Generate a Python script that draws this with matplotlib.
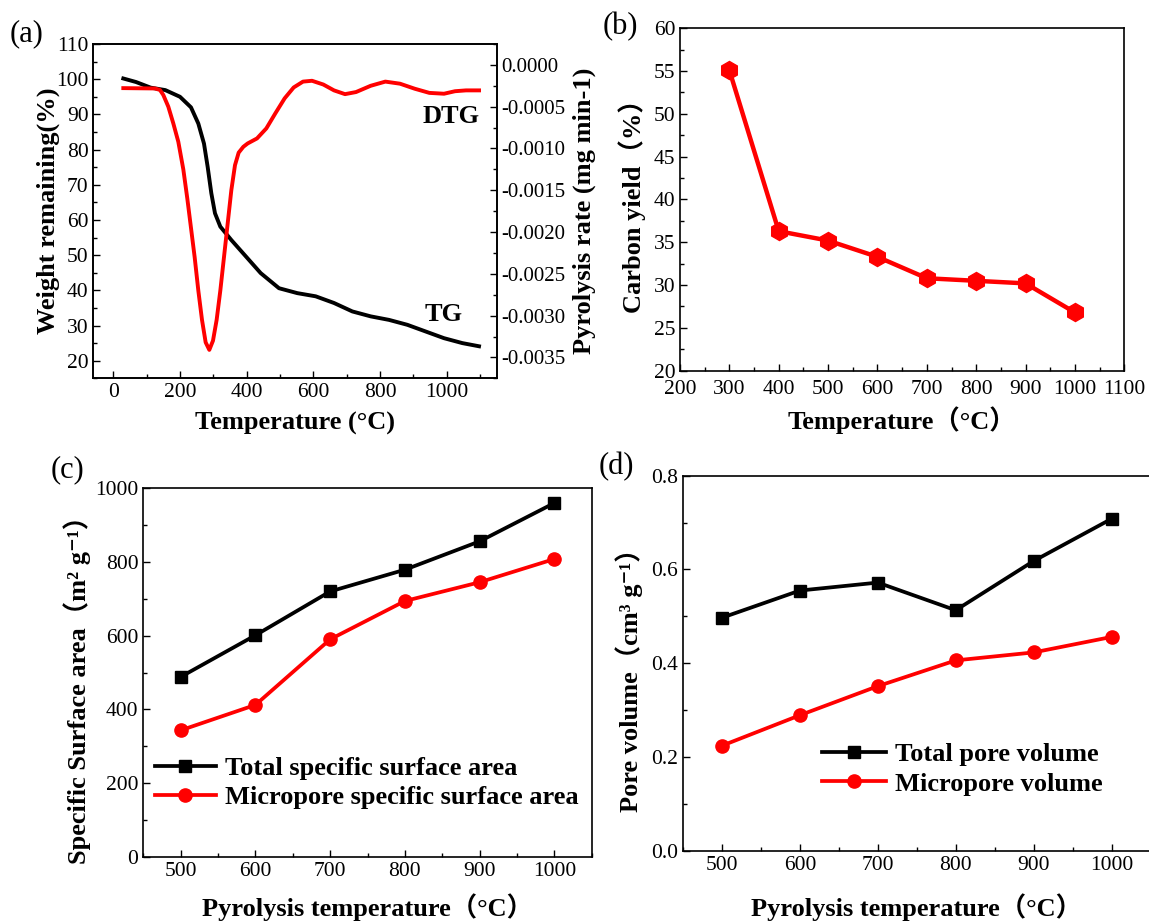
import matplotlib
matplotlib.use('Agg')
import matplotlib.pyplot as plt
from matplotlib.ticker import MultipleLocator, FormatStrFormatter

plt.rcParams['font.family'] = ['Liberation Serif', 'Noto Sans CJK SC', 'DejaVu Serif']
plt.rcParams['font.size'] = 15
plt.rcParams['axes.linewidth'] = 1.2
plt.rcParams['xtick.direction'] = 'in'
plt.rcParams['ytick.direction'] = 'in'

# (a) TG / DTG curves
tg_temp = [30, 68, 112, 156, 200, 233, 255, 272, 283, 294, 305, 321, 354, 398, 442,
           497, 552, 607, 662, 717, 772, 827, 882, 937, 992, 1047, 1097]
tg_weight = [100.2, 99.2, 97.6, 96.9, 95.0, 92.0, 87.4, 81.7, 75.1, 67.6, 61.9, 58.1, 54.3, 49.6, 44.9,
             40.6, 39.2, 38.3, 36.4, 34.0, 32.6, 31.6, 30.2, 28.3, 26.4, 25.0, 24.1]
dtg_temp = [30, 125, 140, 150, 165, 180, 195, 210, 222, 233, 244, 255, 266, 277, 288, 299, 310, 321,
            332, 343, 354, 365, 376, 390, 403, 431, 459, 486, 514, 541, 569, 596, 630, 662, 695, 728,
            772, 816, 860, 904, 948, 992, 1025, 1058, 1097]
dtg_rate = [-0.278, -0.282, -0.30, -0.36, -0.50, -0.70, -0.92, -1.25, -1.60, -1.95, -2.30, -2.70, -3.05,
            -3.32, -3.41, -3.30, -3.05, -2.70, -2.30, -1.90, -1.50, -1.20, -1.05, -0.98, -0.94, -0.88,
            -0.76, -0.58, -0.40, -0.27, -0.20, -0.19, -0.235, -0.305, -0.35, -0.325, -0.25, -0.20,
            -0.225, -0.285, -0.335, -0.345, -0.315, -0.305, -0.305]
dtg_rate = [v * 1e-3 for v in dtg_rate]

# (b) carbon yield
yield_temp = [300, 400, 500, 600, 700, 800, 900, 1000]
carbon_yield = [55.1, 36.3, 35.2, 33.3, 30.8, 30.5, 30.2, 26.8]

# (c), (d) surface area and pore volume
pyro_temp = [500, 600, 700, 800, 900, 1000]
total_area = [488, 601, 720, 779, 856, 960]
micro_area = [343, 412, 590, 694, 745, 808]
total_volume = [0.497, 0.555, 0.572, 0.513, 0.618, 0.708]
micro_volume = [0.224, 0.289, 0.351, 0.406, 0.423, 0.456]

W, H = 1149, 922
fig = plt.figure(figsize=(W / 100, H / 100), dpi=100)


def box(left, right, top, bottom):
    return [left / W, 1 - bottom / H, (right - left) / W, (bottom - top) / H]


def style(ax):
    ax.tick_params(which='major', length=5, width=1, labelsize=15.5)
    ax.tick_params(which='minor', length=3, width=1)


lab = {'fontsize': 19, 'fontweight': 'bold'}
leg = {'weight': 'bold', 'size': 19}

# ---- (a)
ax = fig.add_axes(box(93.3, 496.7, 44, 378.3))
ax.plot(tg_temp, tg_weight, color='black', lw=2.8)
ax.set_xlim(-60, 1150)
ax.set_ylim(15, 110)
ax.xaxis.set_major_locator(MultipleLocator(200))
ax.xaxis.set_minor_locator(MultipleLocator(100))
ax.yaxis.set_major_locator(MultipleLocator(10))
ax.yaxis.set_minor_locator(MultipleLocator(5))
ax.set_xlabel('Temperature (°C)', **lab)
ax.set_ylabel('Weight remaining(%)', **lab)
ax.xaxis.set_label_coords(0.5, -0.135)
ax.yaxis.set_label_coords(-0.112, 0.5)
ax.xaxis.label.set_va('center')
ax.yaxis.label.set_va('center')
ax.text(1014, 89.3, 'DTG', ha='center', va='center', **lab)
ax.text(992, 33.0, 'TG', ha='center', va='center', **lab)
style(ax)
ax2 = ax.twinx()
ax2.plot(dtg_temp, dtg_rate, color='red', lw=2.8)
ax2.set_ylim(-0.00375, 0.00025)
ax2.yaxis.set_major_locator(MultipleLocator(0.0005))
ax2.yaxis.set_minor_locator(MultipleLocator(0.00025))
ax2.yaxis.set_major_formatter(FormatStrFormatter('%.4f'))
ax2.set_ylabel('Pyrolysis rate (mg min-1)', **lab)
ax2.yaxis.set_label_coords(1.217, 0.5)
ax2.yaxis.label.set_va('center')
style(ax2)
ax2.tick_params(axis='y', labelsize=15, pad=3)
fig.text(27 / W, 1 - 34 / H, '(a)', fontsize=22, ha='center', va='center')

# ---- (b)
ax = fig.add_axes(box(680, 1124.3, 28.3, 370.7))
ax.plot(yield_temp, carbon_yield, color='red', lw=3.2, marker='h', markersize=13)
ax.set_xlim(200, 1100)
ax.set_ylim(20, 60)
ax.xaxis.set_major_locator(MultipleLocator(100))
ax.xaxis.set_minor_locator(MultipleLocator(50))
ax.yaxis.set_major_locator(MultipleLocator(5))
ax.yaxis.set_minor_locator(MultipleLocator(2.5))
ax.set_xlabel('Temperature（°C）', **lab)
ax.set_ylabel('Carbon yield（%）', **lab)
ax.xaxis.set_label_coords(0.5, -0.144)
ax.yaxis.set_label_coords(-0.107, 0.5)
ax.xaxis.label.set_va('center')
ax.yaxis.label.set_va('center')
style(ax)
ax.tick_params(axis='x', pad=7)
fig.text(620 / W, 1 - 27 / H, '(b)', fontsize=22, ha='center', va='center')

# ---- (c)
ax = fig.add_axes(box(143.3, 591.7, 488.3, 856.7))
ax.plot(pyro_temp, total_area, color='black', lw=2.7, marker='s', markersize=8.5,
        label='Total specific surface area')
ax.plot(pyro_temp, micro_area, color='red', lw=2.7, marker='o', markersize=9.5,
        label='Micropore specific surface area')
ax.set_xlim(450, 1050)
ax.set_ylim(0, 1000)
ax.xaxis.set_major_locator(MultipleLocator(100))
ax.xaxis.set_minor_locator(MultipleLocator(50))
ax.yaxis.set_major_locator(MultipleLocator(200))
ax.yaxis.set_minor_locator(MultipleLocator(100))
ax.set_xlabel('Pyrolysis temperature（°C）', **lab)
ax.set_ylabel('Specific Surface area（m² g⁻¹）', **lab)
ax.xaxis.set_label_coords(0.5, -0.136)
ax.yaxis.set_label_coords(-0.148, 0.469)
ax.xaxis.label.set_va('center')
ax.yaxis.label.set_va('center')
ax.legend(loc='center left', bbox_to_anchor=(0.026, 0.20), frameon=False, prop=leg,
          handlelength=2.3, handletextpad=0.35, labelspacing=0.22, borderpad=0, borderaxespad=0)
style(ax)
fig.text(68 / W, 1 - 470 / H, '(c)', fontsize=22, ha='center', va='center')

# ---- (d)
ax = fig.add_axes(box(683, 1150.5, 475.7, 850.7))
ax.plot(pyro_temp, total_volume, color='black', lw=2.7, marker='s', markersize=8.5,
        label='Total pore volume')
ax.plot(pyro_temp, micro_volume, color='red', lw=2.7, marker='o', markersize=9.5,
        label='Micropore volume')
ax.set_xlim(450, 1050)
ax.set_ylim(0, 0.8)
ax.xaxis.set_major_locator(MultipleLocator(100))
ax.xaxis.set_minor_locator(MultipleLocator(50))
ax.yaxis.set_major_locator(MultipleLocator(0.2))
ax.yaxis.set_minor_locator(MultipleLocator(0.1))
ax.yaxis.set_major_formatter(FormatStrFormatter('%.1f'))
ax.set_xlabel('Pyrolysis temperature（°C）', **lab)
ax.set_ylabel('Pore volume（cm³ g⁻¹）', **lab)
ax.xaxis.set_label_coords(0.5, -0.151)
ax.yaxis.set_label_coords(-0.116, 0.471)
ax.xaxis.label.set_va('center')
ax.yaxis.label.set_va('center')
ax.legend(loc='center left', bbox_to_anchor=(0.298, 0.217), frameon=False, prop=leg,
          handlelength=2.4, handletextpad=0.35, labelspacing=0.22, borderpad=0, borderaxespad=0)
style(ax)
fig.text(616 / W, 1 - 467 / H, '(d)', fontsize=22, ha='center', va='center')

plt.savefig('out.png', dpi=100)
